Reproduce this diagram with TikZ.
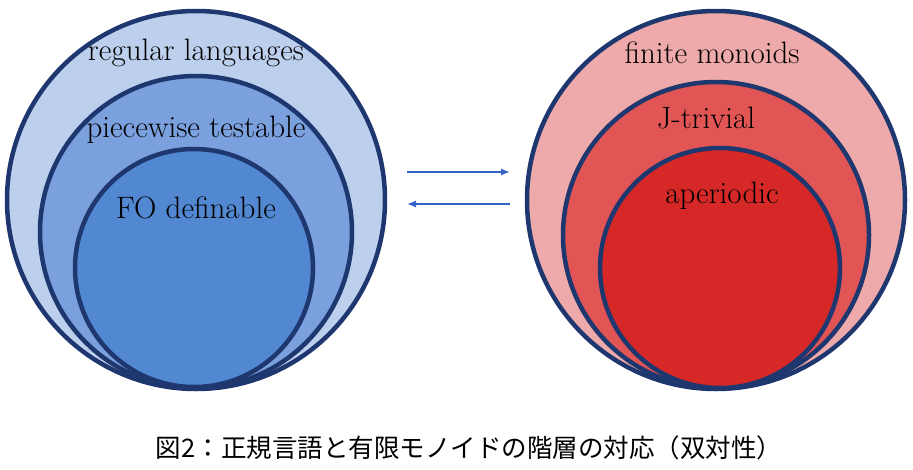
\documentclass[tikz,border=0pt]{standalone}
\usepackage{fontspec}
\newfontfamily\cjk{Noto Sans CJK JP}
\usetikzlibrary{arrows.meta}
\begin{document}
\begin{tikzpicture}[x=1pt,y=-1pt,
  circ/.style={draw={rgb,255:red,30;green,55;blue,110},line width=4.5pt},
  lab/.style={font=\fontsize{31}{34}\selectfont},
  arr/.style={draw={rgb,255:red,50;green,100;blue,200},line width=1.3pt,-{Latex[length=9pt,width=7pt]}}]
\useasboundingbox (0,0) rectangle (913,469);
\definecolor{b1}{RGB}{188,208,238}\definecolor{b2}{RGB}{122,160,222}\definecolor{b3}{RGB}{82,135,210}
\definecolor{r1}{RGB}{238,170,170}\definecolor{r2}{RGB}{225,85,85}\definecolor{r3}{RGB}{215,40,40}
\fill[b1,circ] (196,200) circle (189);
\fill[b2,circ] (196,232) circle (156);
\fill[b3,circ] (194,268) circle (119);
\fill[r1,circ] (716,200) circle (189);
\fill[r2,circ] (716,235) circle (153);
\fill[r3,circ] (720,268) circle (120);
\node[lab] (l1) at (196,53) {regular languages};
\node[lab] (l2) at (196,130) {piecewise testable};
\node[lab] (l3) at (196,208) {FO definable};
\node[lab] (r1n) at (712,53) {finite monoids};
\node[lab] (r2n) at (706,118) {J-trivial};
\node[lab] (r3n) at (722,196) {aperiodic};
\coordinate (a1) at (407,172); \coordinate (a2) at (510,172);
\coordinate (b1p) at (510,204); \coordinate (b2p) at (407,204);
\draw[arr] (a1) -- (a2);
\draw[arr] (b1p) -- (b2p);
\node[font=\cjk\fontsize{25.5}{28}\selectfont] (cap) at (469,448) {図2：正規言語と有限モノイドの階層の対応（双対性）};
\end{tikzpicture}
\end{document}
